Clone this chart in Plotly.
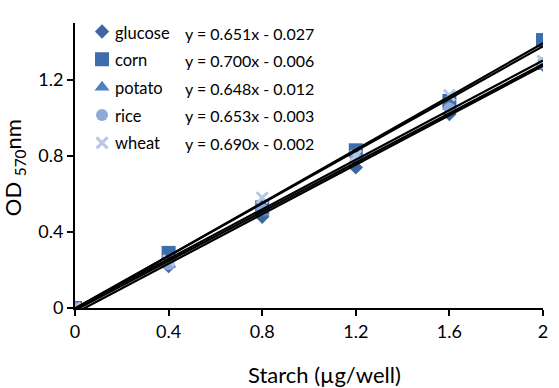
import plotly.graph_objects as go

x_vals = [0, 0.4, 0.8, 1.2, 1.6, 2.0]
names = ["glucose", "corn", "potato", "rice", "wheat"]
glucose = [0, 0.22, 0.48, 0.74, 1.02, 1.28]
corn = [0, 0.29, 0.53, 0.83, 1.09, 1.41]
potato = [0, 0.23, 0.50, 0.78, 1.06, 1.27]
rice = [0, 0.23, 0.52, 0.79, 1.05, 1.29]
wheat = [0, 0.25, 0.58, 0.80, 1.12, 1.30]
series = [glucose, corn, potato, rice, wheat]
slopes = [0.651, 0.700, 0.648, 0.653, 0.690]
intercepts = [-0.027, -0.006, -0.012, -0.003, -0.002]
x_ticks = [0, 0.4, 0.8, 1.2, 1.6, 2]
y_ticks = [0, 0.4, 0.8, 1.2]
x_title = "Starch (µg/well)"
y_title = "OD <sub>570</sub>nm"

symbols = ["diamond", "square", "triangle-up", "circle", "x-thin"]
colors = ["#3E67A2", "#3D6DAA", "#4E80C2", "#8FAAD6", "#B7C8E4"]
sizes = [11, 14, 13, 12, 11]

FONT = "Lato, Open Sans, sans-serif"
PLOT_H = 285.0
ROW = 27.5

fig = go.Figure()
for i, (n, ys) in enumerate(zip(names, series)):
    mk = dict(symbol=symbols[i], color=colors[i], size=sizes[i])
    if symbols[i] == "x-thin":
        mk["line"] = dict(color=colors[i], width=3)
    fig.add_trace(go.Scatter(x=x_vals, y=ys, mode="markers", name=" ",
                             marker=mk, legendgroup=n,
                             hovertemplate=n + ": %{x}, %{y}<extra></extra>"))

for i, n in enumerate(names):
    xs = [x_vals[0], x_vals[-1]]
    ys = [slopes[i] * xv + intercepts[i] for xv in xs]
    fig.add_trace(go.Scatter(x=xs, y=ys, mode="lines", showlegend=False,
                             line=dict(color="black", width=2.2), hoverinfo="skip"))

for i, n in enumerate(names):
    yy = (PLOT_H - 10 - i * ROW) / PLOT_H
    fig.add_annotation(xref="paper", yref="paper", x=0.081, y=yy,
                       xanchor="left", yanchor="middle", showarrow=False,
                       text=n, font=dict(family=FONT, size=16.5, color="#000000"))
    sign = "-" if intercepts[i] < 0 else "+"
    fig.add_annotation(xref="paper", yref="paper", x=0.231, y=yy,
                       xanchor="left", yanchor="middle", showarrow=False,
                       text=f"y = {slopes[i]:.3f}x {sign} {abs(intercepts[i]):.3f}",
                       font=dict(family=FONT, size=16, color="#000000"))

fig.add_annotation(xref="paper", yref="paper", x=0.534, y=-0.235,
                   xanchor="center", yanchor="middle", showarrow=False,
                   text=x_title, font=dict(family=FONT, size=22, color="#000000"))
fig.add_annotation(xref="paper", yref="paper", x=-0.130, y=0.491,
                   xanchor="center", yanchor="middle", showarrow=False, textangle=-90,
                   text=y_title, font=dict(family=FONT, size=22, color="#000000"))

fig.update_layout(
    width=559, height=388,
    margin=dict(l=75, r=16, t=23, b=80),
    paper_bgcolor="white", plot_bgcolor="white",
    font=dict(family=FONT, color="#000000"),
    showlegend=True,
    legend=dict(x=0.015, y=1.026, xanchor="left", yanchor="top",
                font=dict(family=FONT, size=14.5, color="#000000"),
                traceorder="grouped", tracegroupgap=6,
                bgcolor="rgba(0,0,0,0)", itemwidth=30),
    xaxis=dict(range=[0, 2], tickvals=x_ticks, ticktext=[f"{v:g}" for v in x_ticks],
               automargin=False,
               showgrid=False, zeroline=False, showline=True, linecolor="black", linewidth=2,
               ticks="outside", ticklen=6, tickwidth=2, tickcolor="black",
               tickfont=dict(family=FONT, size=18)),
    yaxis=dict(range=[0, 1.5], tickvals=y_ticks, ticktext=[f"{v:g}" for v in y_ticks],
               automargin=False,
               showgrid=False, zeroline=False, showline=True, linecolor="black", linewidth=2,
               ticks="outside", ticklen=6, tickwidth=2, tickcolor="black",
               tickfont=dict(family=FONT, size=18)),
)

fig.write_html("out.html", config={"displayModeBar": False},
               post_script="document.body.style.margin='0';")
